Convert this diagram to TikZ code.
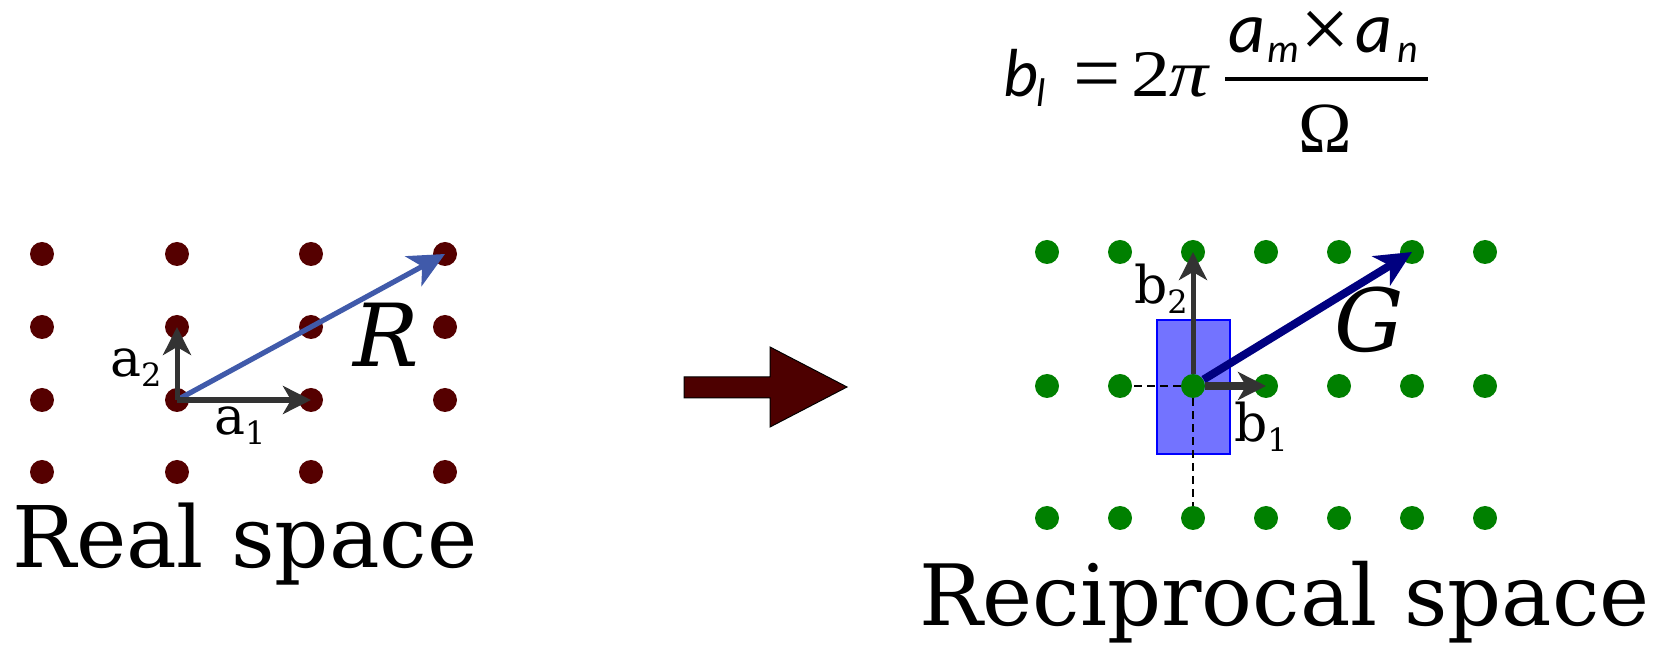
\documentclass[tikz,border=0pt]{standalone}
\usepackage{graphicx}
\usepackage{fontspec}
\setmainfont{DejaVu Serif}
\newfontfamily\calfont{Carlito}
\newfontfamily\tnrfont{Liberation Serif}
\usetikzlibrary{arrows.meta}
\definecolor{realdot}{RGB}{85,0,0}
\definecolor{recipdot}{RGB}{0,128,0}
\definecolor{rvec}{RGB}{64,90,170}
\definecolor{gvec}{RGB}{0,0,128}
\definecolor{basisgray}{RGB}{51,51,51}
\definecolor{cellfill}{RGB}{115,115,255}
\definecolor{celldraw}{RGB}{0,0,255}
\definecolor{bigarrow}{RGB}{77,0,0}
\tikzset{
  rdot/.style={circle,fill=realdot,inner sep=0pt,minimum size=12pt},
  gdot/.style={circle,fill=recipdot,inner sep=0pt,minimum size=12pt},
  lbl/.style={anchor=base west,inner sep=0pt,outer sep=0pt},
  basis/.style={draw=basisgray,line width=#1,-{Stealth[length=14pt,width=14pt,inset=4pt]}},
  longvec/.style={draw=#1,-{Stealth[length=18pt,width=17pt,inset=5pt]}},
  cellbox/.style={draw=celldraw,fill=cellfill,line width=0.8pt,inner sep=0pt,minimum width=36.5pt,minimum height=67pt},
  dashline/.style={draw=black,line width=0.7pt,dash pattern=on 4pt off 2.5pt},
  veclbl/.style={lbl,font=\fontsize{26}{30}\selectfont},
  capvec/.style={lbl,font=\fontsize{43.5}{50}\selectfont\itshape},
  calit/.style={lbl,font=\calfont\itshape\fontsize{34}{40}\selectfont},
  calnum/.style={lbl,font=\calfont\itshape\fontsize{36}{40}\selectfont},
  calsub/.style={lbl,font=\calfont\itshape\fontsize{20}{24}\selectfont},
  tnr/.style={lbl,font=\tnrfont\fontsize{#1}{#1}\selectfont},
}
\newcommand{\vsub}[1]{\raisebox{-5pt}{\fontsize{16}{18}\selectfont #1}}
\begin{document}
\begin{tikzpicture}[x=0.5pt,y=-0.5pt]
\useasboundingbox (0,0) rectangle (1662,646);

% ---------- real space lattice ----------
\foreach \i/\x in {0/42,1/177,2/311,3/445}
  \foreach \j/\y in {0/254,1/327,2/400,3/472}
    \node[rdot] (r\i\j) at (\x,\y) {};

\draw[longvec=rvec,line width=2.6pt] (r12.center) -- (r30.center);
\draw[basis=3pt] (r12.center) -- (r22.center);
\draw[basis=2.5pt] (r12.center) -- (r11.center);

\node[veclbl] (la2) at (110,377) {a\vsub{2}};
\node[veclbl] (la1) at (214,435) {a\vsub{1}};
\node[capvec] (lR) at (353,367) {R};
\node[lbl,font=\fontsize{42.5}{50}\selectfont] (lreal) at (12,568) {Real space};

% ---------- big arrow ----------
\filldraw[fill=bigarrow,draw=black,line width=0.5pt]
  (684,377) -- (770,377) -- (770,347) -- (847,387) -- (770,427) -- (770,398) -- (684,398) -- cycle;

% ---------- reciprocal lattice ----------
\node[cellbox] (cell) at (1193.5,387) {};
\foreach \i/\x in {0/1047,1/1120,2/1193,3/1266,4/1339,5/1412,6/1485}
  \foreach \j/\y in {0/252,1/386,2/518}
    \node[gdot] (g\i\j) at (\x,\y) {};

\draw[dashline] (g21) -- (g11);
\draw[dashline] (g21) -- (g22);

\draw[longvec=gvec,line width=4pt] (g21) -- (g50.center);
\draw[basis=4pt] (g21) -- (g31.center);
\draw[basis=2.5pt] (g21) -- (g20.center);

\node[veclbl] (lb2) at (1134,304) {b\vsub{2}};
\node[veclbl] (lb1) at (1234,442) {b\vsub{1}};
\node[capvec] (lG) at (1334,352) {G};
\node[lbl,font=\fontsize{42.3}{48}\selectfont] (lrecip) at (919,626) {Reciprocal space};

% ---------- formula ----------
\node[calit] (fb) at (1003,97) {b};
\node[calsub] (fl) at (1036,107) {l};
\node[tnr=42] (feq) at (1073,102) {=};
\node[lbl] (f2pi) at (1131,97) {\resizebox{39pt}{22pt}{\tnrfont 2\itshape π}};
\node[calnum] (fa1) at (1228,53) {a};
\node[calsub] (fm) at (1267,63) {m};
\node[tnr=44] (ftimes) at (1300,59) {×};
\node[calnum] (fa2) at (1355,53) {a};
\node[calsub] (fn) at (1397,63) {n};
\draw[line width=1.8pt] (1225,79) -- (1428,79);
\node[tnr=36] (fomega) at (1298,153) {Ω};
\end{tikzpicture}
\end{document}
